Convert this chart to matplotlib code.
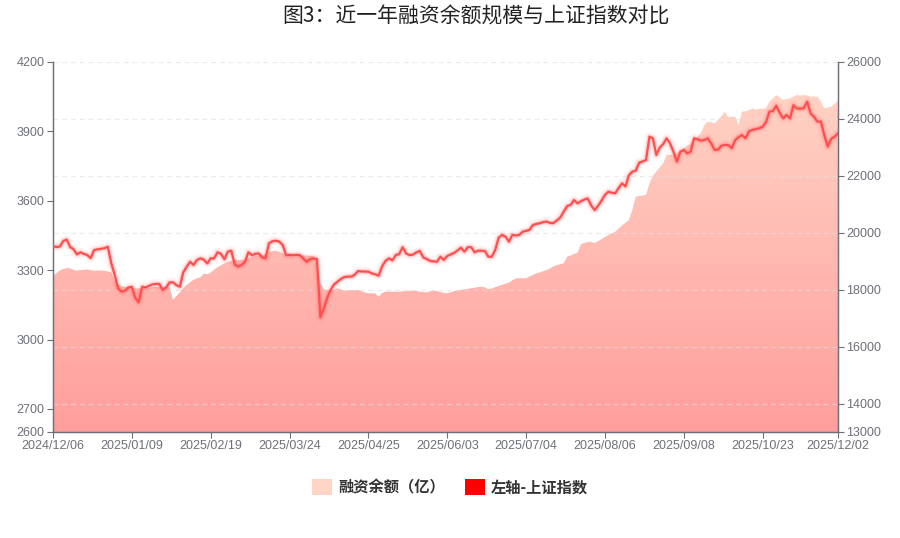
import numpy as np
import matplotlib
matplotlib.use("Agg")
import matplotlib.pyplot as plt
from matplotlib.colors import LinearSegmentedColormap
from matplotlib.patches import Patch

plt.rcParams['font.family'] = ['Noto Sans CJK SC', 'DejaVu Sans']

# x labels shown on the category axis (every 23rd trading day + last day)
tick_labels = ['2024/12/06', '2025/01/09', '2025/02/19', '2025/03/24', '2025/04/25',
               '2025/06/03', '2025/07/04', '2025/08/06', '2025/09/08', '2025/10/23',
               '2025/12/02']
tick_pos = [0, 23, 46, 69, 92, 115, 138, 161, 184, 207, 229]

# 上证指数 (left axis)
sse = [3404, 3400, 3402, 3426, 3432, 3400, 3390, 3368, 3377, 3370,
       3365, 3352, 3387, 3390, 3392, 3395, 3401, 3330, 3279, 3220,
       3207, 3211, 3225, 3228, 3180, 3161, 3228, 3225, 3232, 3238,
       3240, 3240, 3214, 3225, 3247, 3247, 3235, 3228, 3290, 3315,
       3336, 3322, 3344, 3351, 3345, 3329, 3351, 3351, 3377, 3370,
       3347, 3380, 3384, 3325, 3315, 3322, 3336, 3377, 3365, 3370,
       3372, 3355, 3351, 3416, 3425, 3427, 3423, 3409, 3365, 3366,
       3365, 3366, 3365, 3350, 3336, 3348, 3350, 3348, 3096, 3134,
       3180, 3215, 3238, 3250, 3262, 3270, 3272, 3272, 3280, 3296,
       3294, 3294, 3293, 3286, 3282, 3276, 3316, 3340, 3351, 3342,
       3365, 3370, 3399, 3372, 3365, 3367, 3377, 3383, 3355, 3348,
       3340, 3338, 3336, 3358, 3344, 3361, 3368, 3374, 3385, 3397,
       3380, 3399, 3399, 3377, 3384, 3384, 3382, 3358, 3358, 3387,
       3440, 3452, 3445, 3423, 3452, 3450, 3452, 3466, 3470, 3474,
       3495, 3500, 3503, 3508, 3510, 3504, 3503, 3515, 3528, 3553,
       3577, 3582, 3603, 3589, 3598, 3605, 3610, 3580, 3560, 3578,
       3600, 3625, 3639, 3635, 3632, 3655, 3675, 3662, 3710, 3726,
       3730, 3765, 3770, 3776, 3877, 3870, 3798, 3830, 3845, 3870,
       3848, 3812, 3769, 3812, 3820, 3805, 3812, 3870, 3866, 3860,
       3863, 3870, 3848, 3820, 3821, 3838, 3841, 3841, 3827, 3862,
       3875, 3884, 3870, 3900, 3906, 3910, 3913, 3920, 3940, 3985,
       3988, 4011, 3980, 3956, 3971, 3956, 4013, 3999, 3998, 4000,
       4028, 3978, 3963, 3942, 3942, 3884, 3834, 3867, 3877, 3891]

# 融资余额（亿） (right axis)
margin = [18490, 18580, 18680, 18730, 18760, 18750, 18700, 18667, 18690, 18700,
          18715, 18690, 18667, 18675, 18670, 18667, 18640, 18600, 18300, 18200,
          18120, 18100, 18080, 18060, 18050, 18045, 18050, 18050, 18070, 18090,
          18105, 18110, 18100, 18105, 18100, 17640, 17780, 17900, 18050, 18165,
          18260, 18350, 18400, 18430, 18570, 18540, 18600, 18700, 18790, 18860,
          18920, 18984, 19010, 19030, 19043, 19050, 19060, 19100, 19160, 19180,
          19200, 19219, 19270, 19336, 19360, 19371, 19330, 19280, 19220, 19225,
          19220, 19215, 19219, 19210, 19200, 19195, 19195, 19043, 18224, 18015,
          17990, 17985, 18000, 18050, 18010, 17965, 17975, 17990, 17985, 17989,
          17950, 17900, 17872, 17870, 17872, 17755, 17880, 17930, 17935, 17930,
          17928, 17930, 17945, 17950, 17960, 17965, 17950, 17930, 17915, 17907,
          17940, 17965, 17950, 17920, 17890, 17872, 17910, 17950, 17975, 17990,
          18010, 18030, 18050, 18070, 18090, 18105, 18080, 18015, 18040, 18090,
          18130, 18170, 18210, 18247, 18330, 18400, 18405, 18395, 18400, 18460,
          18520, 18576, 18610, 18650, 18692, 18750, 18820, 18867, 18900, 18925,
          19160, 19200, 19260, 19290, 19600, 19640, 19670, 19687, 19640, 19700,
          19780, 19850, 19920, 19980, 20038, 20150, 20260, 20350, 20448, 20800,
          21267, 21290, 21310, 21327, 21737, 22000, 22150, 22300, 22440, 22732,
          22740, 22730, 22800, 22849, 22950, 23060, 23142, 23250, 23376, 23500,
          23786, 23903, 23880, 23846, 23962, 24100, 24253, 24055, 24070, 24079,
          23786, 24253, 24270, 24300, 24372, 24330, 24350, 24360, 24372, 24620,
          24723, 24840, 24760, 24664, 24700, 24723, 24781, 24840, 24820, 24840,
          24830, 24781, 24790, 24781, 24606, 24372, 24400, 24430, 24540, 24630]

left_ticks = [2600, 2700, 3000, 3300, 3600, 3900, 4200]
right_ticks = [13000, 14000, 16000, 18000, 20000, 22000, 24000, 26000]

x = np.arange(len(sse))
axis_col = '#6E7079'

fig = plt.figure(figsize=(9, 5.38), dpi=100)
ax = fig.add_axes([53/900, 106/538, 785/900, 370/538])
ax2 = ax.twinx()
ax.set_zorder(ax2.get_zorder() + 1)
ax.patch.set_visible(False)

# area with vertical gradient on right axis
ax2.set_ylim(13000, 26000)
ax.set_xlim(0, len(x) - 1)
poly = ax2.fill_between(x, margin, 13000, color='none', lw=0)
cmap = LinearSegmentedColormap.from_list('g', ['#FF9E9C', '#FFD7C8'])
grad = np.linspace(0, 1, 256).reshape(-1, 1)
img = ax2.imshow(grad, cmap=cmap, origin='lower', aspect='auto',
                 extent=[0, len(x) - 1, 13000, 26000], zorder=1)
img.set_clip_path(poly.get_paths()[0], transform=ax2.transData)
ax2.set_xlim(0, len(x) - 1)

for t in right_ticks[1:]:
    ax2.axhline(t, color='#E0E0E0', lw=0.9, ls=(0, (4, 3)), alpha=0.6, zorder=2)

# line with soft glow
for lw, a in [(7, 0.05), (4.5, 0.1), (3, 0.15)]:
    ax.plot(x, sse, color='#FF5050', lw=lw, alpha=a, solid_capstyle='round', zorder=3)
ax.plot(x, sse, color='#FF4F4F', lw=1.6, zorder=4)
ax.set_ylim(2600, 4200)

ax.set_yticks(left_ticks)
ax2.set_yticks(right_ticks)
ax.set_xticks(tick_pos)
ax.set_xticklabels(tick_labels)

for a in (ax, ax2):
    a.tick_params(colors=axis_col, labelsize=9, length=4, width=0.8)
    for lab in a.get_xticklabels() + a.get_yticklabels():
        lab.set_family(['Liberation Sans', 'DejaVu Sans'])
    a.spines['top'].set_visible(False)
    for s in ('left', 'right', 'bottom'):
        a.spines[s].set_color(axis_col)
        a.spines[s].set_linewidth(0.9)
ax.tick_params(axis='x', pad=2)
ax.tick_params(axis='y', pad=2)
ax2.tick_params(axis='y', pad=2)

fig.text(476/900, 1 - 17/538, '图3：近一年融资余额规模与上证指数对比',
         ha='center', va='center', fontsize=15, color='#222222')

handles = [Patch(facecolor='#FFD5C5', edgecolor='none'),
           Patch(facecolor='#FF0000', edgecolor='none')]
leg = fig.legend(handles, ['融资余额（亿）', '左轴-上证指数'], loc='center',
                 bbox_to_anchor=(450/900, 1 - 487/538), ncol=2, frameon=False,
                 handlelength=1.3, handleheight=1.3, handletextpad=0.4,
                 columnspacing=1.3, prop={'size': 11, 'weight': 'bold'})
for t in leg.get_texts():
    t.set_color('#333333')

fig.savefig('out.png', dpi=100)
